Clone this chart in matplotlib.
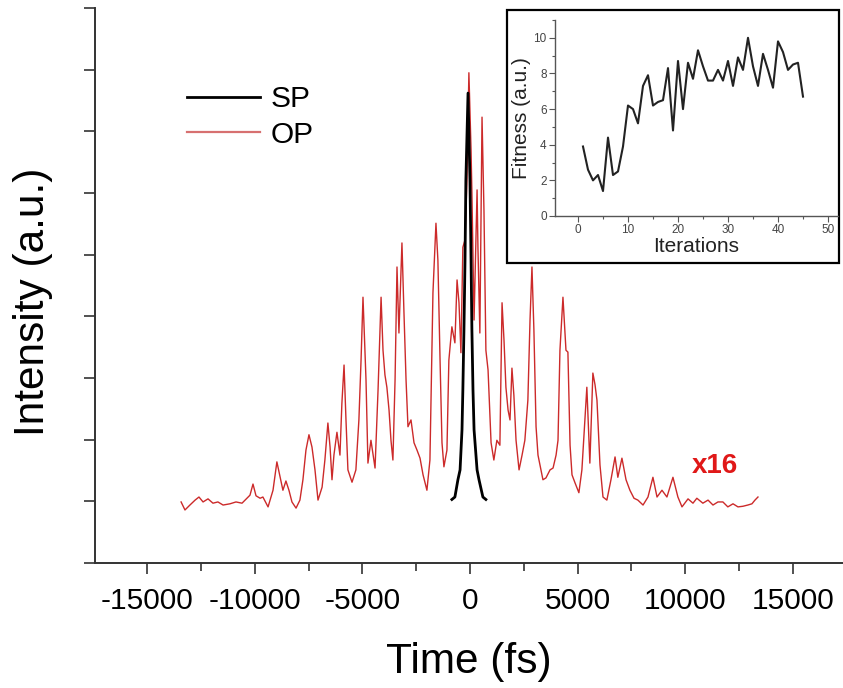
import matplotlib
matplotlib.use('Agg')
import matplotlib.pyplot as plt
from matplotlib.patches import Rectangle
from matplotlib.ticker import MultipleLocator

plt.rcParams['font.family'] = ['Liberation Sans', 'DejaVu Sans']

# ---------------- data ----------------
op_time = [-13420, -13240, -13010, -12770, -12590, -12400, -12170, -11940, -11710, -11470,
           -11150, -10870, -10590, -10360, -10220, -10080, -9940, -9750, -9620, -9380,
           -9150, -8970, -8830, -8690, -8550, -8410, -8270, -8080, -7900, -7760,
           -7620, -7480, -7340, -7200, -7060, -6870, -6740, -6600, -6500, -6410,
           -6320, -6180, -6040, -5950, -5850, -5760, -5670, -5480, -5300, -5160,
           -5060, -4970, -4830, -4740, -4600, -4410, -4270, -4130, -4040, -3950,
           -3860, -3760, -3670, -3580, -3480, -3390, -3300, -3160, -3070, -2970,
           -2880, -2740, -2600, -2460, -2320, -2180, -2000, -1860, -1720, -1580,
           -1490, -1390, -1300, -1210, -1070, -980, -840, -700, -600, -510,
           -420, -330, -230, -140, -50, 50, 90, 190, 330, 370,
           460, 560, 650, 740, 840, 980, 1110, 1250, 1390, 1490,
           1580, 1670, 1770, 1860, 1950, 2040, 2140, 2280, 2420, 2550,
           2690, 2790, 2880, 2970, 3070, 3160, 3300, 3390, 3530, 3720,
           3860, 4000, 4090, 4180, 4320, 4460, 4550, 4650, 4740, 4880,
           5060, 5200, 5340, 5430, 5530, 5570, 5670, 5710, 5810, 5900,
           6040, 6180, 6360, 6550, 6740, 6870, 7060, 7250, 7430, 7620,
           7800, 8040, 8270, 8500, 8690, 8920, 9150, 9430, 9660, 9850,
           10130, 10360, 10540, 10820, 11060, 11290, 11520, 11750, 11980, 12220,
           12450, 12680, 12910, 13100, 13240, 13380]
op_intensity = [0.99, 0.86, 0.94, 1.02, 1.07, 0.99, 1.04, 0.97, 0.99, 0.94,
                0.96, 0.99, 0.97, 1.05, 1.10, 1.28, 1.09, 1.05, 1.07, 0.91,
                1.18, 1.64, 1.41, 1.18, 1.33, 1.18, 0.99, 0.89, 1.02, 1.35,
                1.83, 2.08, 1.88, 1.51, 1.02, 1.23, 1.67, 2.27, 1.88, 1.35,
                1.75, 2.12, 1.75, 2.59, 3.21, 2.32, 1.51, 1.31, 1.51, 2.32,
                3.29, 4.31, 2.97, 1.62, 1.99, 1.54, 2.81, 4.31, 3.45, 3.05,
                2.85, 2.48, 1.99, 1.67, 2.97, 4.80, 3.73, 5.19, 4.10, 2.97,
                2.21, 2.32, 1.95, 1.83, 1.70, 1.43, 1.18, 1.67, 4.38, 5.51,
                4.91, 3.29, 1.95, 1.56, 1.83, 3.29, 3.83, 3.57, 4.59, 4.22,
                3.41, 5.12, 5.24, 6.21, 7.95, 6.70, 6.00, 3.94, 6.05, 5.12,
                3.73, 7.23, 5.72, 3.45, 3.13, 1.95, 1.67, 1.99, 1.91, 4.22,
                3.62, 2.85, 2.48, 2.32, 3.16, 2.72, 1.99, 1.51, 1.75, 1.99,
                2.64, 3.94, 4.80, 3.78, 2.21, 1.75, 1.51, 1.35, 1.38, 1.51,
                1.54, 1.75, 1.99, 3.45, 4.31, 3.45, 3.42, 1.91, 1.43, 1.30,
                1.14, 1.51, 2.32, 2.85, 1.99, 1.62, 2.64, 3.08, 2.89, 2.64,
                1.59, 1.07, 1.02, 1.35, 1.72, 1.39, 1.70, 1.35, 1.18, 1.05,
                1.02, 0.94, 1.07, 1.39, 1.07, 1.18, 1.07, 1.39, 1.07, 0.91,
                1.04, 0.97, 1.05, 0.97, 1.02, 0.94, 0.99, 0.99, 0.91, 0.96,
                0.91, 0.92, 0.94, 0.96, 1.02, 1.07]

sp_time = [-840, -700, -560, -460, -370, -330, -280, -230, -190, -90,
           0, 50, 90, 140, 190, 330, 420, 600, 740]
sp_intensity = [1.03, 1.07, 1.35, 1.51, 2.16, 2.81, 3.78, 4.91, 6.21, 7.62,
                6.21, 4.91, 3.78, 2.81, 2.16, 1.51, 1.35, 1.07, 1.03]

iterations = list(range(1, 46))
fitness = [3.9, 2.6, 2.0, 2.3, 1.4, 4.4, 2.3, 2.5, 3.9, 6.2,
           6.0, 5.2, 7.3, 7.9, 6.2, 6.4, 6.5, 8.3, 4.8, 8.7,
           6.0, 8.6, 7.7, 9.3, 8.4, 7.6, 7.6, 8.2, 7.6, 8.7,
           7.3, 8.9, 8.2, 10.0, 8.4, 7.3, 9.1, 8.2, 7.2, 9.8,
           9.2, 8.2, 8.5, 8.6, 6.7]

main_xticks = [-15000, -10000, -5000, 0, 5000, 10000, 15000]
main_xtick_labels = ['-15000', '-10000', '-5000', '0', '5000', '10000', '15000']
inset_xticks = [0, 10, 20, 30, 40, 50]
inset_yticks = [0, 2, 4, 6, 8, 10]

# ---------------- figure ----------------
W, H = 843, 688
fig = plt.figure(figsize=(W / 100, H / 100), dpi=100)

ax = fig.add_axes([95 / W, 1 - 563 / H, 748 / W, 555 / H])
l_op, = ax.plot(op_time, op_intensity, color='#cc2a2a', lw=1.0, label='OP', zorder=2)
l_sp, = ax.plot(sp_time, sp_intensity, color='black', lw=2.0, label='SP', zorder=3)
ax.set_xlim(-17420, 17330)
ax.set_ylim(0, 9)
for s in ('top', 'right'):
    ax.spines[s].set_visible(False)
for s in ('left', 'bottom'):
    ax.spines[s].set_linewidth(1.4)
    ax.spines[s].set_color('#333333')
ax.set_xticks(main_xticks, labels=main_xtick_labels)
ax.xaxis.set_minor_locator(MultipleLocator(2500))
ax.yaxis.set_major_locator(MultipleLocator(1))
ax.set_yticklabels([])
ax.tick_params(axis='both', which='major', direction='out', length=8, width=1.2,
               color='#333333', labelsize=21.5, pad=9)
ax.tick_params(axis='both', which='minor', direction='out', length=6, width=1.2,
               color='#333333')
ax.set_xlabel('Time (fs)', fontsize=30.5, labelpad=20)
ax.set_ylabel('Intensity (a.u.)', fontsize=30.5, labelpad=13, y=0.47)

leg = ax.legend([l_sp, l_op], ['SP', 'OP'], loc='upper left',
                bbox_to_anchor=(0.123, 0.861), frameon=False, fontsize=21.5,
                handlelength=2.45, handletextpad=0.35, labelspacing=0.25,
                borderpad=0, borderaxespad=0)
leg.get_lines()[1].set_color('#d77070')
leg.get_lines()[1].set_linewidth(1.6)

ax.text(10300, 1.46, 'x16', color='#e01818', fontsize=20, fontweight='bold',
        va='baseline', ha='left')

# inset frame
frame = Rectangle((507 / W, 1 - 263 / H), (839 - 507) / W, (263 - 10) / H,
                  transform=fig.transFigure, facecolor='white', edgecolor='black',
                  lw=1.6, zorder=1)
fig.patches.append(frame)

axi = fig.add_axes([555 / W, 1 - 216 / H, (838 - 555) / W, 196 / H], zorder=2)
axi.patch.set_alpha(0)
axi.plot(iterations, fitness, color='#222222', lw=1.5)
axi.set_xlim(-4.6, 52)
axi.set_ylim(0, 11)
for s in ('top', 'right'):
    axi.spines[s].set_visible(False)
for s in ('left', 'bottom'):
    axi.spines[s].set_color('#555555')
    axi.spines[s].set_linewidth(1.0)
axi.set_xticks(inset_xticks)
axi.set_yticks(inset_yticks)
axi.xaxis.set_minor_locator(MultipleLocator(5))
axi.yaxis.set_minor_locator(MultipleLocator(1))
axi.tick_params(axis='both', which='major', direction='out', length=4, width=0.8,
                color='#555555', labelsize=8.5, labelcolor='#444444', pad=2)
axi.tick_params(axis='both', which='minor', direction='out', length=2, width=0.8,
                color='#555555')
axi.set_xlabel('Iterations', fontsize=15, labelpad=0.5, color='#222222')
axi.set_ylabel('Fitness (a.u.)', fontsize=15, labelpad=2, color='#222222')

fig.savefig('out.png', dpi=100, facecolor='white')
